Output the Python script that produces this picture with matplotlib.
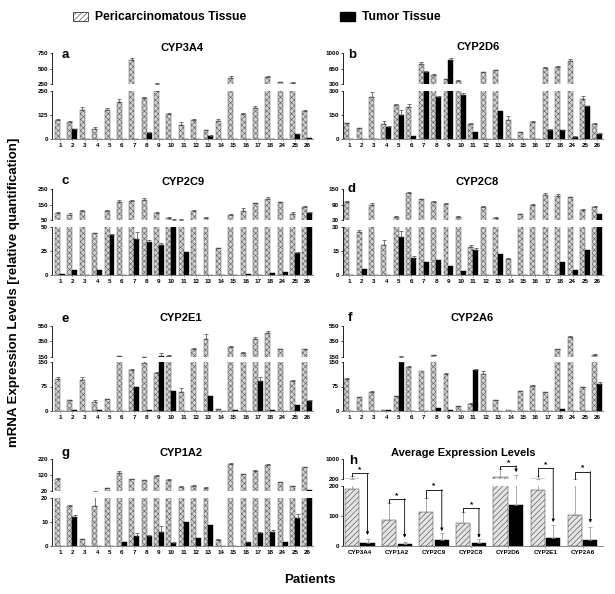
import numpy as np
import matplotlib.pyplot as plt
from matplotlib.patches import Patch

plt.rcParams['font.family'] = ['Liberation Sans', 'DejaVu Sans']
plt.rcParams['font.weight'] = 'bold'
plt.rcParams['hatch.linewidth'] = 0.4

patients = ['1', '2', '3', '4', '5', '6', '7', '8', '9', '10', '11', '12', '13',
            '14', '15', '16', '17', '18', '24', '25', '26']

# CYP3A4 (a)
a_peri = [100, 90, 153, 53, 153, 195, 646, 213, 248, 132, 74, 99, 46, 95, 349, 132, 164, 370, 287, 276, 148]
a_peri_err = [5, 5, 15, 12, 8, 12, 25, 8, 15, 4, 14, 4, 3, 12, 30, 3, 10, 15, 8, 6, 4]
a_tum = [0, 51, 0, 0, 3, 0, 3, 33, 0, 0, 3, 0, 19, 0, 0, 0, 0, 4, 0, 26, 8]
a_tum_err = [0, 3, 0, 0, 0, 0, 0, 3, 0, 0, 0, 0, 2, 0, 0, 0, 0, 0, 0, 3, 0]

# CYP2D6 (b)
b_peri = [100, 69, 264, 96, 210, 203, 764, 506, 410, 373, 92, 573, 617, 122, 44, 107, 661, 690, 830, 252, 96]
b_peri_err = [4, 3, 30, 15, 8, 15, 45, 30, 15, 15, 10, 10, 10, 25, 3, 6, 30, 30, 30, 20, 5]
b_tum = [3, 3, 0, 78, 151, 23, 580, 260, 853, 275, 44, 0, 174, 3, 0, 0, 59, 55, 17, 205, 36]
b_tum_err = [0, 0, 0, 6, 30, 0, 20, 8, 40, 12, 0, 0, 0, 0, 0, 0, 3, 3, 3, 3, 3]

# CYP2C9 (c)
c_peri = [100, 83, 109, 44, 109, 167, 172, 183, 100, 65, 52, 109, 65, 28, 85, 109, 159, 190, 165, 93, 137]
c_peri_err = [5, 12, 5, 0.5, 10, 12, 8, 8, 5, 8, 5, 8, 4, 0.5, 5, 20, 5, 10, 5, 12, 6]
c_tum = [1.5, 5, 0, 5.7, 41.5, 0.5, 37.6, 35, 31.6, 55, 24.5, 0, 0, 0, 0, 1.5, 0.5, 2.5, 3, 22.7, 96]
c_tum_err = [0, 0, 0, 0, 1, 0, 7, 1.5, 1.5, 2, 0, 0, 0, 0, 0, 0, 0, 0, 0, 1, 5]

# CYP2C8 (d)
d_peri = [100, 27, 88, 19, 44, 135, 111, 102, 95, 44, 17.5, 82, 39, 10, 53, 89, 127, 125, 119, 70, 83]
d_peri_err = [3, 1, 8, 3, 2, 3, 3, 3, 3, 3, 1.5, 3, 2, 1, 2, 3, 8, 8, 3, 3, 3]
d_tum = [0, 4, 0, 0.3, 24, 11, 8, 9.6, 5.4, 2.7, 15.6, 0, 13, 0, 0.3, 0, 0, 8, 3, 15.6, 55]
d_tum_err = [0, 0, 0, 0, 3.5, 1.2, 0, 0, 0, 0, 1.5, 0, 0, 0, 0, 0, 0, 0, 0, 0, 0]

# CYP2E1 (e)
e_peri = [99, 34, 96, 28, 37, 160, 126, 148, 116, 165, 59, 246, 382, 6, 279, 207, 379, 457, 246, 92, 246]
e_peri_err = [6, 1, 8, 5, 1, 5, 4, 4, 2, 5, 12, 15, 60, 1, 10, 5, 25, 20, 5, 3, 8]
e_tum = [0, 4, 0, 2, 0, 0, 73, 3, 165, 62, 0, 0, 45, 0, 2, 0, 93, 2, 0, 19, 32]
e_tum_err = [0, 0, 0, 0, 0, 0, 0, 0, 40, 0, 0, 0, 0, 0, 0, 0, 10, 0, 0, 0, 2]

# CYP2A6 (f)
f_peri = [99, 42, 59, 4, 45, 135, 122, 171, 112, 14, 21, 113, 34, 4, 60, 78, 57, 246, 407, 72, 175]
f_peri_err = [3, 2, 3, 0, 2, 3, 0, 8, 3, 1, 3, 8, 1, 0, 2, 1, 2, 10, 8, 1, 8]
f_tum = [0, 0, 0, 2, 150, 0, 0, 9, 2, 0, 127, 0, 0, 0, 0, 0, 0, 7, 0, 0, 84]
f_tum_err = [0, 0, 0, 0, 12, 0, 0, 0, 0, 0, 3, 0, 0, 0, 0, 0, 0, 0, 0, 0, 6]

# CYP1A2 (g)
g_peri = [99, 16.6, 2.7, 16.6, 39, 137, 95, 89, 116, 91, 47, 54, 41, 2.6, 193, 126, 149, 182, 76, 51, 170]
g_peri_err = [3, 0.3, 0.2, 5.5, 3, 8, 3, 3, 3, 3, 8, 3, 3, 0.2, 3, 3, 3, 10, 3, 3, 5]
g_tum = [0.1, 12.2, 0, 0, 0.2, 1.5, 4, 4, 5.6, 1.2, 10, 3.5, 8.7, 0, 0, 1.5, 5.3, 6, 1.5, 11.7, 28]
g_tum_err = [0, 0.7, 0, 0, 0, 0, 1.5, 0.5, 2.5, 0.3, 0, 0, 0, 0, 0, 0.3, 0.5, 0.7, 0, 1.5, 0]

# Average expression levels (h)
h_genes = ['CYP3A4', 'CYP1A2', 'CYP2C9', 'CYP2C8', 'CYP2D6', 'CYP2E1', 'CYP2A6']
h_peri = [190, 87, 114, 76, 295, 187, 103]
h_peri_err = [132, 57, 46, 39, 298, 135, 110]
h_tum = [9, 5.6, 19, 9, 136, 27, 20]
h_tum_err = [13, 7.4, 23, 13, 214, 43, 44]
h_brk_top = [430, 158, 189, 126, 729, 634, 498]
h_brk_left = [322, 145, 160, 115, 593, 322, 213]
h_arrow_tip = [37, 28, 50, 28, 480, 80, 78]

W, H = 615, 594
fig = plt.figure(figsize=(W / 100, H / 100), dpi=100)


def add_ax(x0, y0, x1, y1):
    return fig.add_axes([x0 / W, 1 - y1 / H, (x1 - x0) / W, (y1 - y0) / H])


def style(ax, bottom=True):
    for s in ['top', 'right']:
        ax.spines[s].set_visible(False)
    ax.spines['left'].set_linewidth(0.6)
    ax.spines['bottom'].set_linewidth(0.7)
    ax.spines['bottom'].set_color('#888888')
    if not bottom:
        ax.spines['bottom'].set_visible(False)
    ax.tick_params(axis='both', labelsize=4.5, length=1.6, width=0.5, pad=1.2)
    ax.tick_params(axis='x', colors='#888888', labelcolor='black')


def panel(xcol, rows, xlim, labels, peri, peri_err, tum, tum_err,
          lo_lim, up_lim, lo_ticks, up_ticks, width=0.4, off=0.2,
          hatch='xxxxxx', face='#d4d4d4', edge='#5a5a5a', ecol='#444444', xfont=4.5):
    n = len(peri)
    x = np.arange(n)
    ax_up = add_ax(xcol[0], rows[0], xcol[1], rows[1])
    ax_lo = add_ax(xcol[0], rows[2], xcol[1], rows[3])
    peri = np.array(peri, float)
    tum = np.array(tum, float)
    pe = np.array(peri_err, float)
    te = np.array(tum_err, float)
    for ax in (ax_up, ax_lo):
        ax.bar(x - off, peri, width, color=face, edgecolor=edge,
               hatch=hatch, linewidth=0.35)
        ax.bar(x + off, tum, width, color='black', edgecolor='black', linewidth=0.3)
        m = pe > 0
        ax.errorbar(x[m] - off, peri[m], yerr=[np.zeros(m.sum()), pe[m]], fmt='none',
                    ecolor=ecol, elinewidth=0.5, capsize=1.3, capthick=0.5)
        m = te > 0
        ax.errorbar(x[m] + off, tum[m], yerr=[np.zeros(m.sum()), te[m]], fmt='none',
                    ecolor=ecol, elinewidth=0.5, capsize=1.3, capthick=0.5)
        ax.set_xlim(*xlim)
    ax_up.set_ylim(*up_lim)
    ax_up.set_yticks(up_ticks)
    ax_lo.set_ylim(0, lo_lim)
    ax_lo.set_yticks(lo_ticks)
    ax_up.set_xticks([])
    ax_lo.set_xticks(x)
    ax_lo.set_xticklabels(labels, fontsize=xfont)
    style(ax_up, bottom=False)
    style(ax_lo)
    return ax_up, ax_lo


L = (52, 313)
R = (343, 603)
row1 = (53.3, 84.3, 91, 139.3)
row2 = (189.3, 220.3, 227.3, 275)
row3 = (325.7, 357, 362, 411)
row4 = (459.3, 491.3, 497.7, 546)
row4h = (459.3, 479, 486.3, 546)
xl_left = (-0.65, 20.45)
xl_right = (-0.5, 20.45)

panel(L, row1, xl_left, patients, a_peri, a_peri_err, a_tum, a_tum_err,
      250, (250, 750), [0, 125, 250], [250, 500, 750])
panel(R, row1, xl_right, patients, b_peri, b_peri_err, b_tum, b_tum_err,
      300, (300, 1000), [0, 150, 300], [300, 650, 1000])
panel(L, row2, xl_left, patients, c_peri, c_peri_err, c_tum, c_tum_err,
      50, (50, 250), [0, 25, 50], [50, 150, 250])
panel(R, row2, xl_right, patients, d_peri, d_peri_err, d_tum, d_tum_err,
      30, (30, 150), [0, 15, 30], [30, 90, 150])
panel(L, row3, xl_left, patients, e_peri, e_peri_err, e_tum, e_tum_err,
      150, (150, 550), [0, 75, 150], [150, 350, 550])
panel(R, row3, xl_right, patients, f_peri, f_peri_err, f_tum, f_tum_err,
      150, (150, 550), [0, 75, 150], [150, 350, 550])
panel(L, row4, xl_left, patients, g_peri, g_peri_err, g_tum, g_tum_err,
      20, (20, 220), [0, 10, 20], [20, 120, 220])
h_up, h_lo = panel(R, row4h, (-0.45, 6.55), h_genes, h_peri, h_peri_err, h_tum, h_tum_err,
                   200, (200, 1000), [0, 100, 200], [200, 1000], width=0.38, off=0.21,
                   hatch='//////', face='#e4e4e4', edge='#444444', ecol='#8a8a8a', xfont=5.3)

# significance brackets in panel h
for i in range(len(h_genes)):
    top = h_brk_top[i]
    ax_b = h_up if top > 200 else h_lo
    xl, xr = i - 0.21, i + 0.21
    ax_b.plot([xl, xl, xr], [h_brk_left[i], top, top], color='black', lw=0.6, clip_on=False)
    ax_b.text(i, top, '*', ha='center', va='bottom', fontsize=6, clip_on=False)
    ax_t = h_up if h_arrow_tip[i] > 200 else h_lo
    ax_t.annotate('', xy=(xr, h_arrow_tip[i]), xycoords='data', xytext=(xr, top),
                  textcoords=ax_b.transData, annotation_clip=False,
                  arrowprops=dict(arrowstyle='-|>', color='black', lw=0.6,
                                  mutation_scale=4, shrinkA=0, shrinkB=0))

titles = [('CYP3A4', 182, 48.3), ('CYP2D6', 478, 47.5), ('CYP2C9', 183, 181.7),
          ('CYP2C8', 477, 181.7), ('CYP2E1', 181, 318.3), ('CYP2A6', 472, 318.3),
          ('CYP1A2', 181, 453.3), ('Average Expression Levels', 463, 453.3)]
for t, tx, ty in titles:
    fig.text(tx / W, 1 - ty / H, t, ha='center', va='center', fontsize=8)

letters = [('a', 65, 55), ('b', 352, 55), ('c', 65, 181), ('d', 352, 189),
           ('e', 65, 319), ('f', 350, 318), ('g', 65, 453), ('h', 353, 461)]
for t, tx, ty in letters:
    fig.text(tx / W, 1 - ty / H, t, ha='center', va='center', fontsize=9.5)

fig.text(14 / W, 1 - 292 / H, 'mRNA Expression Levels [relative quantification]',
         rotation=90, ha='center', va='center', fontsize=9.5)
fig.text(310 / W, 1 - 580 / H, 'Patients', ha='center', va='center', fontsize=9.5)

handles = [Patch(facecolor='white', edgecolor='#333333', hatch='//////', linewidth=0.6),
           Patch(facecolor='black', edgecolor='black')]
fig.legend(handles, ['Pericarcinomatous Tissue', 'Tumor Tissue'], ncol=2,
           loc='center left', bbox_to_anchor=(73 / W, 1 - 17.5 / H), frameon=False,
           fontsize=8.7, handlelength=1.2, handleheight=0.75, handletextpad=0.6,
           columnspacing=7.8, borderpad=0, borderaxespad=0)

fig.savefig('out.png', dpi=100)
